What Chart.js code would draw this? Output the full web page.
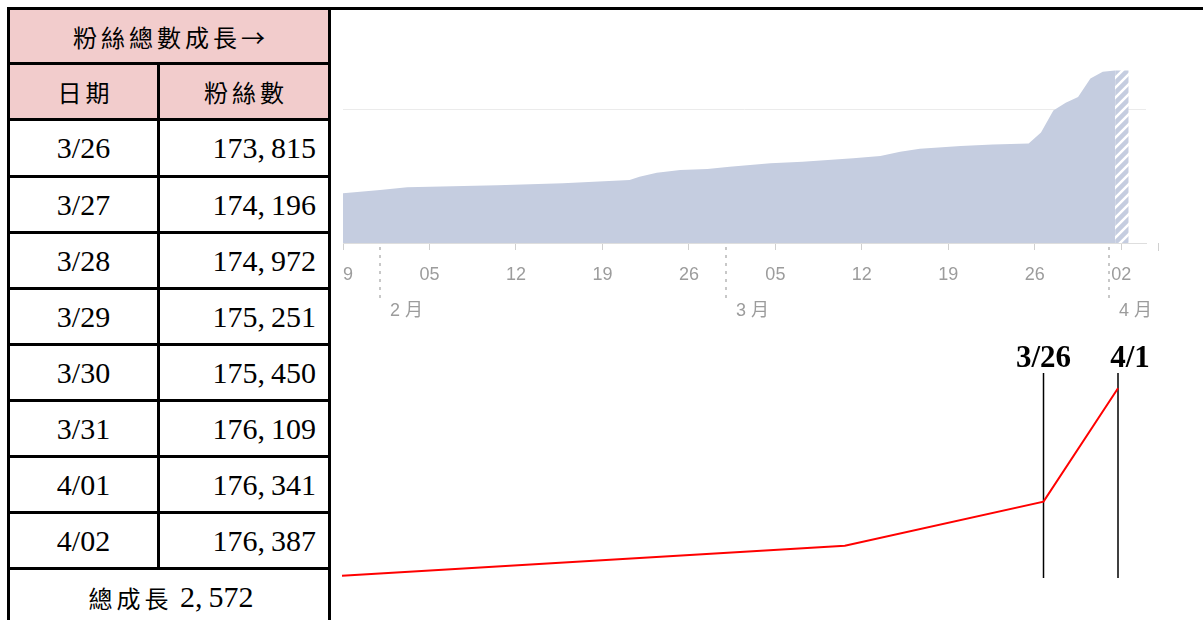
<!DOCTYPE html>
<html><head><meta charset="utf-8">
<script src="https://cdn.jsdelivr.net/npm/chart.js@4.4.0/dist/chart.umd.min.js"></script>
<style>
html,body{margin:0;padding:0;background:#fff;width:1203px;height:620px;overflow:hidden;}
body{position:relative;}
.ln{position:absolute;background:#000;}
.cell{position:absolute;display:flex;align-items:center;justify-content:center;color:#000;white-space:nowrap;box-sizing:border-box;}
.cjk{font-family:"Noto Sans CJK TC","Noto Sans CJK JP",sans-serif;font-size:24px;letter-spacing:4px;padding-left:4px;}
.num{font-family:"Liberation Serif",serif;font-size:30px;}
.pink{background:#f2cccc;}
.right{justify-content:flex-end;padding-right:12px;}
</style></head><body>
<div id="tbl"></div>
<div style="position:absolute;left:343px;top:10px;width:860px;height:320px;"><canvas id="topChart"></canvas></div>
<div style="position:absolute;left:333px;top:340px;width:870px;height:280px;"><canvas id="botChart"></canvas></div>
<script>
// ---------- table data ----------
const tableTitle = '粉絲總數成長→';
const colHeaders = ['日期', '粉絲數'];
const tableDates = ['3/26', '3/27', '3/28', '3/29', '3/30', '3/31', '4/01', '4/02'];
const tableFans = [173815, 174196, 174972, 175251, 175450, 176109, 176341, 176387];
const totalLabel = '總成長';
const totalGrowth = 2572;

// ---------- area chart data (day 0 = Jan 29 tick) ----------
const areaDays = [0, 3, 5.2, 12.5, 17.8, 23.2, 24, 25.4, 27.3, 29.5, 31.3, 34.6, 37.2, 41.3, 43.5, 45.1, 46.7, 50, 52.6, 55.5, 56.5, 57.5, 58.5, 59.5, 60.5, 61.5, 62.5];
const areaFans = [172054, 172170, 172266, 172336, 172407, 172523, 172640, 172781, 172876, 172911, 172993, 173113, 173169, 173289, 173370, 173522, 173628, 173720, 173780, 173815, 174196, 174972, 175251, 175450, 176109, 176341, 176387];
const partialDays = [62.5, 63.6];
const partialFans = [176387, 176387];
const tickDays = [0, 7, 14, 21, 28, 35, 42, 49, 56, 63];
const tickLabels = ['29', '05', '12', '19', '26', '05', '12', '19', '26', '02'];
const extraTickDays = [66];
const monthDays = [3, 31, 62];
const monthLabels = ['2 月', '3 月', '4 月'];
const gridFans = [175000];

// ---------- red trend line data ----------
const lineDays = [-0.5, 40, 56, 62];
const lineFans = [172165, 172834, 173815, 176341];
const markerDays = [56, 62];
const markerLabels = ['3/26', '4/1'];

// ---------- build table ----------
const tbl = document.getElementById('tbl');
function add(cls, x, y, w, h, html) {
  const d = document.createElement('div');
  d.className = cls;
  d.style.left = x + 'px'; d.style.top = y + 'px';
  d.style.width = w + 'px'; d.style.height = h + 'px';
  if (html !== undefined) d.innerHTML = html;
  tbl.appendChild(d);
  return d;
}
const L = 7, R = 331, MID = 157, T = 3;
const rowLines = [7, 62, 118, 175, 231, 287, 343, 399, 455, 511, 567];
add('cell cjk pink', L + T, rowLines[0] + T, R - T - L - T, rowLines[1] - rowLines[0] - T, tableTitle);
add('cell cjk pink', L + T, rowLines[1] + T, MID - L - T, rowLines[2] - rowLines[1] - T, colHeaders[0]);
add('cell cjk pink', MID + T, rowLines[1] + T, R - T - MID - T, rowLines[2] - rowLines[1] - T, colHeaders[1]);
tableDates.forEach((d, i) => {
  const y0 = rowLines[i + 2] + T, h = rowLines[i + 3] - rowLines[i + 2] - T;
  add('cell num', L + T, y0, MID - L - T, h, d);
  add('cell num right', MID + T, y0, R - T - MID - T, h, tableFans[i].toLocaleString('en-US').replace(',', ',&thinsp;'));
});
add('cell', L + T, rowLines[10] + T, R - T - L - T, 620 - rowLines[10] - T + 4,
  '<span class="cjk" style="letter-spacing:4px">' + totalLabel + '</span><span class="num">&nbsp;' + totalGrowth.toLocaleString('en-US').replace(',', ',&thinsp;') + '</span>');
rowLines.forEach((y, i) => add('ln', L, y, (i === 0 ? 1203 : R) - L, T));
add('ln', L, 7, T, 620 - 7);
add('ln', R - T, 7, T, 620 - 7);
add('ln', MID, rowLines[1], T, rowLines[10] - rowLines[1] + T);

// ---------- top area chart ----------
const areaColor = '#c5cde0';
const topCanvas = document.getElementById('topChart');
function makeHatch(ctx) {
  const c = document.createElement('canvas');
  c.width = 10; c.height = 10;
  const g = c.getContext('2d');
  g.fillStyle = areaColor; g.fillRect(0, 0, 10, 10);
  g.strokeStyle = '#ffffff'; g.lineWidth = 2.5;
  g.beginPath();
  g.moveTo(0, 10); g.lineTo(10, 0);
  g.moveTo(-3, 3); g.lineTo(3, -3);
  g.moveTo(7, 13); g.lineTo(13, 7);
  g.stroke();
  return ctx.createPattern(c, 'repeat');
}
const topDecor = {
  id: 'topDecor',
  afterDraw(chart) {
    const ctx = chart.ctx, x = chart.scales.x;
    const base = x.top;
    ctx.save();
    ctx.strokeStyle = '#d0d0d0'; ctx.lineWidth = 1;
    extraTickDays.forEach(d => {
      const px = Math.round(x.getPixelForValue(d)) + 0.5;
      ctx.beginPath(); ctx.moveTo(px, base); ctx.lineTo(px, base + 8); ctx.stroke();
    });
    ctx.strokeStyle = '#c8c8c8'; ctx.lineWidth = 2; ctx.setLineDash([3, 5]);
    monthDays.forEach(d => {
      const px = Math.round(x.getPixelForValue(d));
      ctx.beginPath(); ctx.moveTo(px, base + 4); ctx.lineTo(px, base + 57); ctx.stroke();
    });
    ctx.setLineDash([]);
    ctx.fillStyle = '#9c9c9c';
    ctx.font = '18px "Liberation Sans", "Noto Sans CJK TC", sans-serif';
    ctx.textAlign = 'left'; ctx.textBaseline = 'middle';
    monthDays.forEach((d, i) => {
      const px = x.getPixelForValue(d);
      ctx.fillText(monthLabels[i], px + 10, base + 68);
    });
    ctx.restore();
  }
};
new Chart(topCanvas, {
  type: 'line',
  data: {
    datasets: [
      { data: areaDays.map((d, i) => ({ x: d, y: areaFans[i] })), fill: 'start', backgroundColor: areaColor, borderWidth: 0, pointRadius: 0, tension: 0 },
      { data: partialDays.map((d, i) => ({ x: d, y: partialFans[i] })), fill: 'start', backgroundColor: makeHatch(topCanvas.getContext('2d')), borderWidth: 0, pointRadius: 0, tension: 0 }
    ]
  },
  options: {
    responsive: true, maintainAspectRatio: false, animation: false, events: [],
    layout: { padding: { left: 0, right: 57, top: 50, bottom: 0 } },
    plugins: { legend: { display: false }, tooltip: { enabled: false } },
    scales: {
      x: {
        type: 'linear', min: 0, max: 65,
        afterBuildTicks: s => { s.ticks = tickDays.map(v => ({ value: v })); },
        afterFit: s => { s.height = 87; s.paddingLeft = 0; s.paddingRight = 0; },
        ticks: { autoSkip: false, maxRotation: 0, padding: 14, color: '#9c9c9c', font: { family: 'Liberation Sans', size: 18 }, callback: (v, i) => tickLabels[i] },
        grid: { drawOnChartArea: false, drawTicks: true, tickLength: 7, color: '#d0d0d0' },
        border: { display: true, color: '#dedede' }
      },
      y: {
        min: 170300, max: 176758,
        afterBuildTicks: s => { s.ticks = gridFans.map(v => ({ value: v })); },
        afterFit: s => { s.width = 0; },
        ticks: { display: false },
        grid: { color: '#ebebeb', drawTicks: false },
        border: { display: false }
      }
    }
  },
  plugins: [topDecor]
});

// ---------- bottom red trend chart ----------
const markers = {
  id: 'markers',
  beforeDatasetsDraw(chart) {
    const ctx = chart.ctx, x = chart.scales.x, a = chart.chartArea;
    ctx.save();
    ctx.strokeStyle = '#000'; ctx.lineWidth = 1.5;
    markerDays.forEach(d => {
      const px = x.getPixelForValue(d);
      ctx.beginPath(); ctx.moveTo(px, a.top); ctx.lineTo(px, a.bottom); ctx.stroke();
    });
    ctx.restore();
  },
  afterDraw(chart) {
    const ctx = chart.ctx, x = chart.scales.x, a = chart.chartArea;
    const offs = [0, 12];
    ctx.save();
    ctx.fillStyle = '#000';
    ctx.font = 'bold 31px "Liberation Serif", serif';
    ctx.textAlign = 'center'; ctx.textBaseline = 'alphabetic';
    markerDays.forEach((d, i) => {
      const px = x.getPixelForValue(d) + offs[i];
      ctx.fillText(markerLabels[i], px, a.top - 6);
    });
    ctx.restore();
  }
};
new Chart(document.getElementById('botChart'), {
  type: 'line',
  data: { datasets: [{ data: lineDays.map((d, i) => ({ x: d, y: lineFans[i] })), borderColor: '#ff0000', borderWidth: 2, pointRadius: 0, fill: false, tension: 0, clip: false }] },
  options: {
    responsive: true, maintainAspectRatio: false, animation: false, events: [],
    layout: { padding: { left: 9, right: 85, top: 33, bottom: 42 } },
    plugins: { legend: { display: false }, tooltip: { enabled: false } },
    scales: {
      x: { type: 'linear', display: false, min: -0.5, max: 62 },
      y: { display: false, min: 172114, max: 176682 }
    }
  },
  plugins: [markers]
});
</script>
</body></html>
